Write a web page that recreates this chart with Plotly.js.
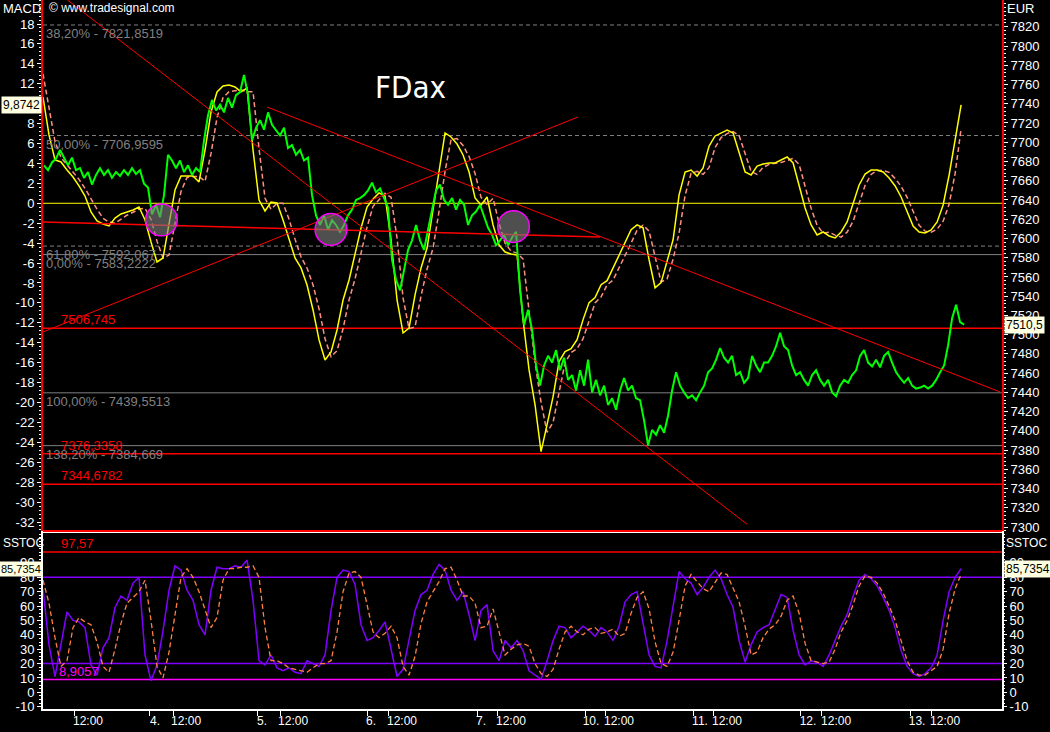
<!DOCTYPE html>
<html><head><meta charset="utf-8">
<script src="https://cdn.plot.ly/plotly-3.0.1.min.js"></script>
<style>html,body{margin:0;padding:0;background:#000;overflow:hidden}#chart{width:1050px;height:732px}</style>
</head><body><div id="chart"></div>
<script>
// ---------- time grid (fractional trading days from chart start) ----------
const PRICE_T0 = 0.0274, PRICE_STEP = 0.0366;
const IND_T0 = 0.0183, IND_STEP = 0.0549;

// ---------- FDAX price (EUR, right axis) ----------
const price = [
 7676,7671,7679,7683,7692,7684,7676,7684,7671,7673,
 7663,7669,7656,7666,7673,7666,7671,7663,7669,7665,
 7671,7666,7673,7667,7671,7657,7653,7625,7635,7622,
 7645,7687,7681,7673,7681,7669,7676,7666,7673,7669,
 7702,7728,7744,7733,7739,7731,7746,7736,7749,7752,
 7770,7749,7702,7715,7723,7713,7731,7718,7713,7707,
 7715,7694,7697,7687,7692,7681,7684,7645,7624,7614,
 7624,7609,7619,7614,7607,7614,7624,7630,7640,7642,
 7645,7650,7658,7648,7652,7642,7632,7578,7557,7546,
 7567,7588,7598,7614,7598,7588,7609,7630,7650,7656,
 7640,7635,7642,7630,7640,7635,7614,7624,7628,7635,
 7624,7611,7604,7593,7598,7604,7593,7601,7607,7546,
 7510,7526,7505,7468,7447,7468,7478,7471,7484,7463,
 7476,7453,7458,7442,7463,7447,7474,7440,7453,7437,
 7447,7427,7434,7422,7442,7455,7442,7447,7434,7432,
 7411,7385,7401,7396,7406,7398,7416,7442,7461,7447,
 7440,7434,7437,7432,7440,7447,7461,7465,7474,7486,
 7476,7471,7478,7458,7461,7450,7455,7478,7468,7461,
 7471,7471,7478,7488,7502,7488,7484,7468,7458,7461,
 7453,7447,7458,7463,7453,7447,7453,7440,7436,7447,
 7453,7450,7458,7463,7478,7484,7471,7467,7474,7466,
 7478,7482,7471,7461,7455,7450,7455,7447,7444,7445,
 7447,7444,7447,7453,7461,7468,7489,7517,7531,7513,
 7510.5];

// ---------- MACD (left axis) ----------
const macd = [
 10.67,6.86,4.35,4.15,3.34,2.64,1.74,0.73,-0.87,-1.78,
 -2.08,-2.28,-1.48,-1.07,-0.87,-0.67,-0.37,-1.68,-3.89,-5.89,
 -5.49,-1.88,1.34,2.74,2.74,2.74,2.14,5.35,9.17,11.18,
 11.78,11.88,11.68,11.18,11.58,5.35,0.33,-0.77,0.13,0.03,
 -1.68,-3.68,-5.49,-6.49,-8.2,-10.71,-13.72,-15.73,-14.93,-12.72,
 -9.71,-7.7,-5.19,-2.48,-0.37,0.43,1.04,0.73,-3.68,-9.71,
 -13.02,-12.52,-9.2,-6.49,-4.49,-0.67,3.34,7.06,6.66,5.95,
 4.85,3.14,0.53,-0.17,0.63,-2.18,-4.19,-4.89,-5.09,-5.19,
 -11.71,-16.73,-20.24,-24.94,-22.22,-19.41,-15.89,-14.89,-14.59,-13.69,
 -11.68,-9.97,-9.47,-8.17,-7.77,-6.47,-5.17,-3.97,-2.66,-2.16,
 -2.46,-5.67,-8.48,-7.97,-5.87,-3.66,0.84,3.14,3.34,2.74,
 3.54,5.75,6.76,7.06,7.36,7.06,5.15,3.14,2.84,3.74,
 3.94,4.05,4.05,4.35,4.65,4.05,1.84,-0.47,-2.18,-3.18,
 -2.88,-3.28,-3.48,-2.88,-1.88,0.03,1.84,2.94,3.34,3.34,
 3.14,2.54,1.74,0.63,-0.87,-2.28,-2.88,-2.98,-2.68,-1.88,
 -0.17,2.84,6.36,9.87];
const macdSignal = [
 13.0,9.6,6.2,4.6,3.9,3.2,2.4,1.5,0.4,-0.6,
 -1.5,-1.9,-2.0,-1.6,-1.2,-0.9,-0.6,-0.5,-1.6,-3.8,
 -5.5,-5.2,-2.0,1.2,2.6,2.7,2.7,2.2,5.0,8.6,
 10.6,11.2,11.3,11.4,11.2,11.2,5.5,0.5,-0.6,0.0,
 0.0,-1.6,-3.6,-5.4,-6.5,-8.2,-10.6,-13.6,-15.4,-14.8,
 -12.6,-9.7,-7.6,-5.0,-2.4,-0.3,0.4,1.0,0.6,-3.5,
 -9.5,-12.6,-12.4,-9.3,-6.6,-4.5,-0.8,3.2,6.4,6.5,
 5.8,4.7,3.0,0.6,-0.1,0.5,-2.0,-4.0,-4.8,-5.0,
 -5.6,-11.0,-16.0,-20.0,-23.0,-22.0,-19.0,-16.0,-15.0,-14.6,
 -13.6,-11.7,-10.0,-9.4,-8.2,-7.7,-6.5,-5.2,-4.0,-2.7,
 -2.2,-2.8,-5.4,-7.9,-7.6,-5.6,-3.0,0.8,3.0,3.2,
 2.9,3.6,5.6,6.6,7.0,7.2,6.8,5.0,3.2,2.9,
 3.6,3.9,4.0,4.1,4.3,4.5,3.9,1.8,-0.5,-2.2,
 -3.0,-2.9,-3.2,-3.4,-2.9,-1.8,0.0,1.8,2.9,3.3,
 3.3,3.1,2.5,1.7,0.6,-0.9,-2.2,-2.8,-2.9,-2.6,
 -1.8,-0.1,3.0,7.5];

// ---------- Slow stochastic ----------
const stochK = [
 72,33,11,33,56,50,49,45,19,12,
 31,38,59,67,64,76,80,26,8,19,
 43,71,88,85,71,64,47,40,71,87,
 86,86,88,87,92,64,22,19,26,17,
 15,17,14,13,22,20,18,26,57,80,
 85,84,75,47,36,38,43,49,29,11,
 16,36,57,68,71,82,89,85,71,64,
 70,54,36,57,61,29,22,36,31,36,
 29,15,12,9,22,36,46,45,38,42,
 46,43,39,45,42,36,46,63,68,70,
 47,26,18,17,36,61,84,79,76,68,
 73,80,85,79,68,59,36,21,33,42,
 45,47,57,68,66,43,26,19,22,21,
 18,26,36,46,54,67,78,82,79,74,
 66,57,45,29,18,13,11,13,17,26,
 50,70,80,86];
const stochD = [
 78,62,38,18,22,45,52,49,47,35,
 18,14,30,48,62,66,70,78,50,18,
 10,28,55,80,86,80,70,58,45,52,
 78,86,86,87,87,88,80,45,22,22,
 20,17,16,15,14,17,20,20,22,42,
 70,83,84,80,60,42,38,41,46,38,
 18,12,25,48,63,70,77,86,87,78,
 67,67,62,45,46,58,42,26,30,33,
 34,32,20,13,11,16,30,42,46,42,
 40,44,45,41,42,44,39,41,55,66,
 70,58,35,20,18,28,50,74,82,77,
 72,70,77,83,82,73,63,46,26,28,
 38,44,47,53,64,67,55,34,22,21,
 20,21,30,42,50,61,74,81,80,76,
 69,60,50,36,22,14,12,12,15,18,
 30,55,72,82];

// ---------- levels & drawings ----------
const fibLevels = [7821.8519, 7706.9595, 7592.067, 7583.2222, 7439.5513, 7384.669];
const fibLabels = ["38,20% - 7821,8519","50,00% - 7706,9595","61,80% - 7592,067","0,00% - 7583,2222","100,00% - 7439,5513","138,20% - 7384,669"];
const fibDashed = [true, true, true, false, false, false];
const redLevels = [7506.745, 7376.3358, 7344.6782];
const redLabels = ["7506,745", "7376,3358", "7344,6782"];
const stochLevels = [97.57, 80, 20, 8.9057];
const stochLevelColors = ["#ff0000", "#8000ff", "#8000ff", "#ff00ff"];
const trendX = [[0.24, 6.46], [0.018, 4.913], [2.068, 8.774], [0.018, 5.114]];
const trendY = [[7848, 7303], [7502.8, 7726.2], [7736.6, 7440.5], [7617.1, 7601.5]];
const circleX = [1.102, 2.653, 4.323];
const circleY = [7619.2, 7609.3, 7612.4];

// ---------- ticks ----------
const macdTicks = [18,16,14,12,10,8,6,4,2,0,-2,-4,-6,-8,-10,-12,-14,-16,-18,-20,-22,-24,-26,-28,-30,-32];
const priceTicks = [7820,7800,7780,7760,7740,7720,7700,7680,7660,7640,7620,7600,7580,7560,7540,7520,7500,7480,7460,7440,7420,7400,7380,7360,7340,7320,7300];
const stochTicks = [90,80,70,60,50,40,30,20,10,0,-10];
const xTickVals = [0.43,1.043,1.327,2.022,2.306,3.019,3.303,4.026,4.300,5.032,5.288,6.029,6.276,7.017,7.274,8.015,8.271];
const xTickText = ["12:00","4.","12:00","5.","12:00","6.","12:00","7.","12:00","10.","12:00","11.","12:00","12.","12:00","13.","12:00"];
const xTickMarks = [0.302,0.997,1.208,1.985,2.187,2.983,3.175,3.989,4.172,4.977,5.169,5.965,6.157,6.953,7.145,7.951,8.143];

const priceX = price.map((_, i) => PRICE_T0 + i * PRICE_STEP);
const indX = macd.map((_, i) => IND_T0 + i * IND_STEP);

const traces = [];
traces.push({x: indX, y: macdSignal, xaxis:'x', yaxis:'y', mode:'lines', line:{color:'#ff9080', width:1.5, dash:'5px,3px'}, hoverinfo:'skip'});
traces.push({x: indX, y: macd, xaxis:'x', yaxis:'y', mode:'lines', line:{color:'#ffff00', width:1.5}, hoverinfo:'skip'});
traces.push({x: priceX, y: price, xaxis:'x', yaxis:'y2', mode:'lines', line:{color:'#00ff00', width:2}, hoverinfo:'skip'});
for (let k = 0; k < trendX.length; k++) {
  traces.push({x: trendX[k], y: trendY[k], xaxis:'x', yaxis:'y2', mode:'lines', line:{color:'#ff0000', width: k === 3 ? 1.5 : 1}, hoverinfo:'skip'});
}
traces.push({x: indX, y: stochK, xaxis:'x', yaxis:'y3', mode:'lines', line:{color:'#8000ff', width:1.5}, hoverinfo:'skip'});
traces.push({x: indX, y: stochD, xaxis:'x', yaxis:'y3', mode:'lines', line:{color:'#ff8040', width:1.3, dash:'5px,3px'}, hoverinfo:'skip'});

const TOP_BOTTOM = 0.2511, BOT_TOP = 0.2482;
const shapes = [];
shapes.push({type:'line', xref:'paper', x0:0, x1:1, yref:'y', y0:0, y1:0, line:{color:'#ffff00', width:1}, layer:'below'});
fibLevels.forEach((v, i) => shapes.push({type:'line', xref:'paper', x0:0, x1:1, yref:'y2', y0:v, y1:v, line:{color:'#808080', width:1, dash: fibDashed[i] ? '4px,3px' : 'solid'}, layer:'below'}));
redLevels.forEach(v => shapes.push({type:'line', xref:'paper', x0:0, x1:1, yref:'y2', y0:v, y1:v, line:{color:'#ff0000', width:1.5}, layer:'below'}));
stochLevels.forEach((v, i) => shapes.push({type:'line', xref:'paper', x0:0, x1:1, yref:'y3', y0:v, y1:v, line:{color:stochLevelColors[i], width:1.5}, layer:'below'}));
shapes.push({type:'line', xref:'paper', yref:'paper', x0:0, x1:1, y0:TOP_BOTTOM, y1:TOP_BOTTOM, line:{color:'#ff0000', width:2}});
const RX = 0.145, RY = 16.5;
circleX.forEach((cx, i) => shapes.push({type:'circle', xref:'x', yref:'y2', x0:cx-RX, x1:cx+RX, y0:circleY[i]-RY, y1:circleY[i]+RY, fillcolor:'rgba(128,128,128,0.62)', line:{color:'#ff00ff', width:1.5}, layer:'above'}));

const ann = [];
const F = 'Liberation Sans, Arial, sans-serif';
fibLevels.forEach((v, i) => ann.push({xref:'paper', x:0.002, xanchor:'left', yref:'y2', y:v, yanchor:'top', yshift:0, text:fibLabels[i], showarrow:false, font:{family:F, size:13, color:'#808080'}, borderpad:0}));
redLevels.forEach((v, i) => ann.push({xref:'paper', x:0.0177, xanchor:'left', yref:'y2', y:v, yanchor:'bottom', text:redLabels[i], showarrow:false, font:{family:F, size:13, color:'#ff0000'}, borderpad:0}));
ann.push({xref:'paper', x:0.0177, xanchor:'left', yref:'y3', y:97.57, yanchor:'bottom', text:'97,57', showarrow:false, font:{family:F, size:13, color:'#ff0000'}, borderpad:0});
ann.push({xref:'paper', x:0.0157, xanchor:'left', yref:'y3', y:8.9057, yanchor:'bottom', text:'8,9057', showarrow:false, font:{family:F, size:13, color:'#ff00ff'}, borderpad:0});
const box = {bgcolor:'#ffffe1', font:{family:F, size:12, color:'#000'}, showarrow:false, borderpad:1};
const boxS = {bgcolor:'#ffffe1', font:{family:F, size:11, color:'#000'}, showarrow:false, borderpad:1};
ann.push(Object.assign({xref:'paper', x:0, xanchor:'right', yref:'y', y:macd[macd.length-1], text:'9,8742', xshift:-1}, box));
ann.push(Object.assign({xref:'paper', x:1, xanchor:'left', yref:'y2', y:price[price.length-1], text:'7510,5', xshift:2}, box));
ann.push(Object.assign({xref:'paper', x:0, xanchor:'right', yref:'y3', y:85.7354, text:'85,7354', xshift:0}, boxS));
ann.push(Object.assign({xref:'paper', x:1, xanchor:'left', yref:'y3', y:85.7354, text:'85,7354', xshift:2}, box));
const hdr = {showarrow:false, font:{family:F, size:13, color:'#fff'}, borderpad:0};
const hdrS = {showarrow:false, font:{family:F, size:12, color:'#fff'}, borderpad:0};
ann.push(Object.assign({xref:'paper', x:-0.0428, xanchor:'left', yref:'paper', y:1, yanchor:'top', text:'MACD'}, hdr));
ann.push(Object.assign({xref:'paper', x:0.005, xanchor:'left', yref:'paper', y:1, yanchor:'top', text:'© www.tradesignal.com'}, hdrS));
ann.push(Object.assign({xref:'paper', x:1.004, xanchor:'left', yref:'paper', y:1, yanchor:'top', text:'EUR'}, hdr));
ann.push(Object.assign({xref:'paper', x:-0.0428, xanchor:'left', yref:'paper', y:BOT_TOP, yanchor:'top', yshift:-2, text:'SSTOC'}, hdrS));
ann.push(Object.assign({xref:'paper', x:1.003, xanchor:'left', yref:'paper', y:BOT_TOP, yanchor:'top', yshift:-2, text:'SSTOC'}, hdrS));
ann.push({xref:'paper', x:0.3837, xanchor:'center', yref:'paper', y:0.877, yanchor:'middle', text:'FDax', showarrow:false, font:{family:'Liberation Sans Narrow, DejaVu Sans Condensed, sans-serif', size:31, color:'#fff'}});

const tickStyle = {ticks:'outside', ticklen:4, tickcolor:'#fff', tickwidth:1, showgrid:false, zeroline:false, tickfont:{family:F, size:13, color:'#fff'}, fixedrange:true};

const layout = {
  width:1050, height:732,
  paper_bgcolor:'#000', plot_bgcolor:'#000',
  margin:{l:43, r:48, t:0, b:23},
  showlegend:false,
  font:{family:F, color:'#fff', size:13},
  xaxis: {domain:[0,1], range:[0.0183, 8.792], anchor:'y3', tickmode:'array', tickvals:xTickVals, ticktext:xTickText, ticks:'', showgrid:false, zeroline:false,
          showline:true, linecolor:'#fff', linewidth:2, mirror:true, tickfont:{family:F, size:12, color:'#fff'}, fixedrange:true,
          minor:{tickmode:'array', tickvals:xTickMarks, ticks:'outside', ticklen:5, tickcolor:'#fff', showgrid:false}},
  yaxis: Object.assign({domain:[TOP_BOTTOM, 1], range:[-32.9, 20.41], anchor:'x', side:'left', tickmode:'array', tickvals:macdTicks, ticktext:macdTicks.map(String),
          showline:true, linecolor:'#ff0000', linewidth:2,
          minor:{tickmode:'linear', tick0:0, dtick:0.4, ticks:'outside', ticklen:2, tickcolor:'#fff', showgrid:false}}, tickStyle),
  yaxis2: Object.assign({overlaying:'y', side:'right', anchor:'x', range:[7296, 7847.8], tickmode:'array', tickvals:priceTicks, ticktext:priceTicks.map(String),
          showline:true, linecolor:'#ff0000', linewidth:2,
          minor:{tickmode:'linear', tick0:7300, dtick:4, ticks:'outside', ticklen:2, tickcolor:'#fff', showgrid:false}}, tickStyle),
  yaxis3: Object.assign({domain:[0, BOT_TOP], range:[-11.6, 110.8], anchor:'x', side:'left', tickmode:'array', tickvals:stochTicks, ticktext:stochTicks.map(String),
          showline:true, linecolor:'#fff', linewidth:2, mirror:true,
          minor:{tickmode:'linear', tick0:0, dtick:2.5, ticks:'outside', ticklen:2, tickcolor:'#fff', showgrid:false}}, tickStyle),
  yaxis4: Object.assign({overlaying:'y3', side:'right', anchor:'x', range:[-11.6, 110.8], tickmode:'array', tickvals:stochTicks, ticktext:stochTicks.map(String),
          showline:false,
          minor:{tickmode:'linear', tick0:0, dtick:2.5, ticks:'outside', ticklen:2, tickcolor:'#fff', showgrid:false}}, tickStyle),
  shapes: shapes,
  annotations: ann
};
// invisible point so the right-hand stochastic axis is drawn
traces.push({x:[indX[0]], y:[stochK[0]], xaxis:'x', yaxis:'y4', mode:'markers', marker:{size:0.1, color:'rgba(0,0,0,0)'}, hoverinfo:'skip'});

Plotly.newPlot('chart', traces, layout, {staticPlot:true, displayModeBar:false});
</script>
</body></html>
